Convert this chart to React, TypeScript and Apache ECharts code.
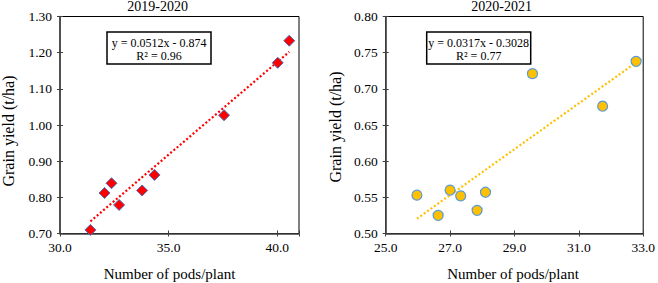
import React, { useEffect, useRef } from 'react';
import * as echarts from 'echarts';

// 2019-2020 season
const pods2019 = [31.4, 32.05, 32.37, 32.72, 33.78, 34.35, 37.55, 40.02, 40.55];
const yield2019 = [0.71, 0.812, 0.839, 0.779, 0.819, 0.862, 1.027, 1.172, 1.233];
const slope2019 = 0.0512;
const intercept2019 = -0.874;
const eq2019 = ['y = 0.0512x - 0.874', 'R² = 0.96'];

// 2020-2021 season
const pods2020 = [25.97, 26.63, 27.0, 27.33, 27.84, 28.1, 29.56, 31.74, 32.78];
const yield2020 = [0.553, 0.525, 0.56, 0.552, 0.532, 0.557, 0.721, 0.676, 0.738];
const slope2020 = 0.0317;
const intercept2020 = -0.3028;
const eq2020 = ['y = 0.0317x - 0.3028', 'R² = 0.77'];

const titles = ['2019-2020', '2020-2021'];
const xName = 'Number of pods/plant';
const yName = 'Grain yield (t/ha)';

const FONT = 'Liberation Serif';
const AXIS_COLOR = '#404040';

function trend(xs: number[], m: number, b: number) {
  const lo = Math.min(...xs);
  const hi = Math.max(...xs);
  return [
    [lo, m * lo + b],
    [hi, m * hi + b],
  ];
}

function fmt(min: number, step: number, digits: number) {
  return (v: number) => {
    const k = (v - min) / step;
    return Math.abs(k - Math.round(k)) < 1e-6 ? v.toFixed(digits) : '';
  };
}

function axisPair(kind: 'x' | 'y', gridIndex: number, min: number, max: number, interval: number, digits: number) {
  const position = kind === 'x' ? 'bottom' : 'left';
  const base = {
    type: 'value' as const,
    gridIndex,
    min,
    max,
    interval,
    position,
    splitLine: { show: false },
  };
  return [
    {
      ...base,
      axisLine: { show: true, onZero: false, lineStyle: { color: AXIS_COLOR, width: 1.5 } },
      axisTick: { show: true, inside: false, length: 3, lineStyle: { color: AXIS_COLOR, width: 1 } },
      axisLabel: {
        show: true,
        formatter: fmt(min, interval, digits),
        color: '#000',
        fontFamily: FONT,
        fontSize: 13.5,
        margin: kind === 'x' ? 7 : 8,
      },
    },
    {
      ...base,
      axisLine: { show: false },
      axisTick: { show: true, inside: true, length: 3, lineStyle: { color: AXIS_COLOR, width: 1 } },
      axisLabel: { show: false },
    },
  ];
}

function textEl(text: string, x: number, y: number, size: number, rotation = 0) {
  return {
    type: 'text',
    x,
    y,
    rotation,
    style: {
      text,
      fill: '#000',
      fontFamily: FONT,
      fontSize: size,
      align: 'center',
      verticalAlign: 'middle',
    },
    z: 10,
  };
}

function eqBox(lines: string[], x: number, y: number, w: number, h: number) {
  return {
    type: 'group',
    z: 10,
    children: [
      {
        type: 'rect',
        shape: { x, y, width: w, height: h },
        style: { fill: '#fff', stroke: '#000', lineWidth: 1.5 },
      },
      ...lines.map((t, i) => ({
        type: 'text',
        x: x + w / 2,
        y: y + 11.3 + i * 13,
        style: {
          text: t,
          fill: '#000',
          fontFamily: FONT,
          fontSize: 12,
          align: 'center',
          verticalAlign: 'middle',
        },
      })),
    ],
  };
}

export default function App() {
  const ref = useRef<HTMLDivElement>(null);

  useEffect(() => {
    document.body.style.margin = '0';
    if (!ref.current) return;
    const chart = echarts.init(ref.current, null, { renderer: 'svg' });

    const x0 = axisPair('x', 0, 30, 41, 5, 1);
    const y0 = axisPair('y', 0, 0.7, 1.3, 0.1, 2);
    const x1 = axisPair('x', 1, 25, 33, 2, 1);
    const y1 = axisPair('y', 1, 0.5, 0.8, 0.05, 2);

    const option: any = {
      animation: false,
      backgroundColor: '#fff',
      grid: [
        { left: 60, top: 16.5, width: 239, height: 217, show: true, borderColor: '#000', borderWidth: 1, backgroundColor: 'transparent' },
        { left: 385.7, top: 16.5, width: 261, height: 217, show: true, borderColor: '#000', borderWidth: 1, backgroundColor: 'transparent' },
      ],
      xAxis: [...x0, ...x1],
      yAxis: [...y0, ...y1],
      series: [
        {
          type: 'line',
          xAxisIndex: 0,
          yAxisIndex: 0,
          data: trend(pods2019, slope2019, intercept2019),
          symbol: 'none',
          lineStyle: { color: '#ff0000', width: 2.2, type: [2, 2.2] },
          z: 2,
        },
        {
          type: 'scatter',
          xAxisIndex: 0,
          yAxisIndex: 0,
          data: pods2019.map((v, i) => [v, yield2019[i]]),
          symbol: 'diamond',
          symbolSize: 11,
          itemStyle: { color: '#ff0000', borderColor: '#4472c4', borderWidth: 1, opacity: 1 },
          z: 3,
        },
        {
          type: 'line',
          xAxisIndex: 2,
          yAxisIndex: 2,
          data: trend(pods2020, slope2020, intercept2020),
          symbol: 'none',
          lineStyle: { color: '#ffc000', width: 2.2, type: [2, 2.2] },
          z: 2,
        },
        {
          type: 'scatter',
          xAxisIndex: 2,
          yAxisIndex: 2,
          data: pods2020.map((v, i) => [v, yield2020[i]]),
          symbol: 'circle',
          symbolSize: 10,
          itemStyle: { color: '#ffc000', borderColor: '#5b9bd5', borderWidth: 1.2, opacity: 1 },
          z: 3,
        },
      ],
      graphic: [
        textEl(titles[0], 157.6, 6, 14),
        textEl(titles[1], 501.7, 6, 14),
        textEl(xName, 169.5, 273.5, 15),
        textEl(xName, 513, 273.5, 15),
        textEl(yName, 8, 131, 16, Math.PI / 2),
        textEl(yName, 335, 127, 16, Math.PI / 2),
        eqBox(eq2019, 107, 32, 104, 32),
        eqBox(eq2020, 426.7, 32, 104, 32),
      ],
    };

    chart.setOption(option);
    return () => chart.dispose();
  }, []);

  return <div ref={ref} style={{ width: 658, height: 283 }} />;
}
